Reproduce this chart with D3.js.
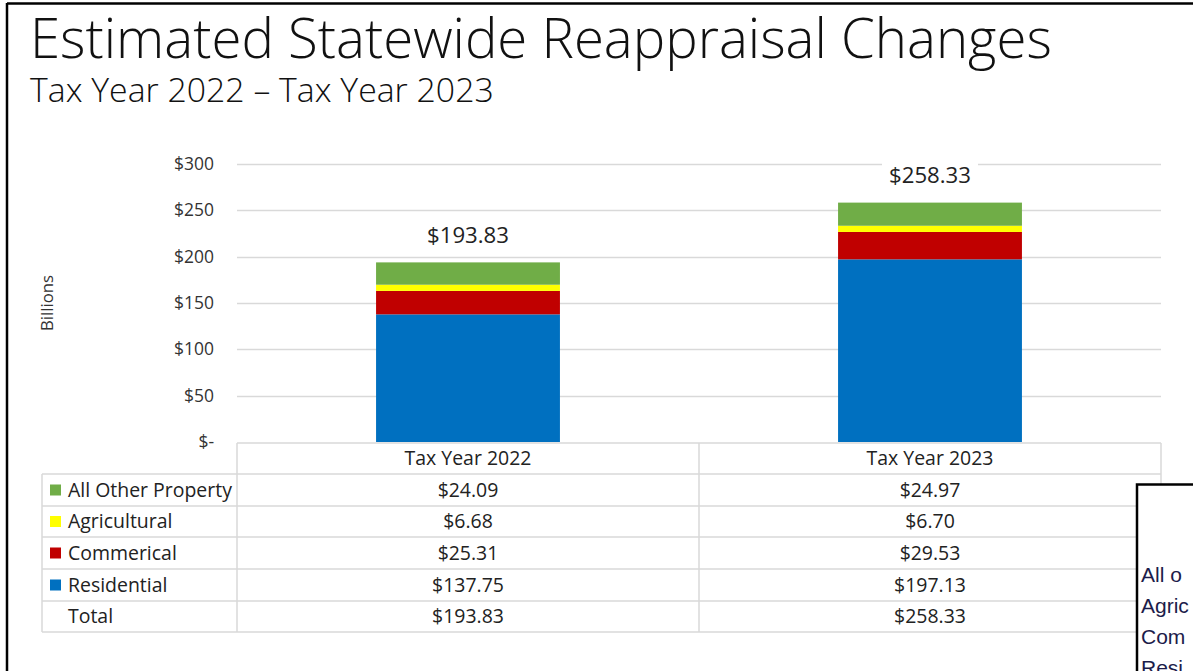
<!DOCTYPE html>
<html>
<head>
<meta charset="utf-8">
<script src="https://cdn.jsdelivr.net/npm/d3@7"></script>
<style>
  html, body { margin: 0; padding: 0; background: #fff; overflow: hidden; }
  svg { display: block; }
</style>
</head>
<body>
<svg id="chart" width="1193" height="671"></svg>
<script>
// Tax years shown as stacked columns
const years = ["Tax Year 2022", "Tax Year 2023"];
// Property classes, top of the stack first (as listed in the data table)
const classes = ["All Other Property", "Agricultural", "Commerical", "Residential"];
const classColors = ["#70AD47", "#FFFF00", "#C00000", "#0070C0"];
// Values in billions of dollars, per year
const allOther = [24.09, 24.97];
const agricultural = [6.68, 6.70];
const commercial = [25.31, 29.53];
const residential = [137.75, 197.13];
const totals = [193.83, 258.33];
// Y-axis ticks
const yTicks = [0, 50, 100, 150, 200, 250, 300];
const sideBoxLines = ["All o", "Agric", "Com", "Resi"];

const seriesValues = [allOther, agricultural, commercial, residential];

const svg = d3.select("#chart");
const font = "'Open Sans', Lato, sans-serif";
const ink = "#222";

// Frame around the slide
svg.append("line").attr("x1", 7).attr("x2", 1193).attr("y1", 3.5).attr("y2", 3.5)
  .attr("stroke", "#000").attr("stroke-width", 2.5);
svg.append("line").attr("x1", 7).attr("x2", 7).attr("y1", 3).attr("y2", 671)
  .attr("stroke", "#000").attr("stroke-width", 2.5);

// Font size that gives a string a chosen width
function sizeFor(str, target, weight) {
  const t = svg.append("text").attr("font-family", font).attr("font-weight", weight || 400)
    .attr("font-size", 100).text(str);
  const w = t.node().getComputedTextLength();
  t.remove();
  return 100 * target / w;
}

svg.append("text").attr("x", 30).attr("y", 58)
  .attr("font-family", font).attr("font-weight", 300)
  .attr("font-size", sizeFor("Estimated Statewide Reappraisal Changes", 1022, 300)).attr("fill", "#111")
  .text("Estimated Statewide Reappraisal Changes");

svg.append("text").attr("x", 30).attr("y", 102)
  .attr("font-family", font).attr("font-weight", 300)
  .attr("font-size", sizeFor("Tax Year 2022 \u2013 Tax Year 2023", 464, 300)).attr("fill", "#111")
  .text("Tax Year 2022 \u2013 Tax Year 2023");

// Plot geometry
const plotLeft = 237, plotRight = 1161, plotTop = 164, plotBottom = 442;

const x = d3.scaleBand().domain(years).range([plotLeft, plotRight]).paddingInner(0).paddingOuter(0);
const y = d3.scaleLinear().domain([0, 300]).range([plotBottom, plotTop]);
const barW = x.bandwidth() * 0.398;

// Gridlines
svg.append("g").selectAll("line").data(yTicks.filter(d => d > 0)).join("line")
  .attr("x1", plotLeft).attr("x2", plotRight)
  .attr("y1", d => Math.round(y(d)) + 0.5).attr("y2", d => Math.round(y(d)) + 0.5)
  .attr("stroke", "#d9d9d9").attr("stroke-width", 1.5);

// Y axis labels
const tickSize = sizeFor("$300", 40);
const yAxis = d3.axisLeft(y).tickValues(yTicks).tickSize(0).tickPadding(0)
  .tickFormat(d => d === 0 ? "$-" : "$" + d);
const gy = svg.append("g").attr("transform", "translate(214,0)").call(yAxis);
gy.select(".domain").remove();
gy.selectAll("text").attr("font-family", font).attr("font-size", tickSize).attr("fill", "#333");

// Axis title
svg.append("text").attr("transform", "translate(53,303) rotate(-90)")
  .attr("text-anchor", "middle").attr("font-family", font).attr("font-size", sizeFor("Billions", 56))
  .attr("fill", "#333").text("Billions");

// Stacked bars
const stackData = years.map((yr, i) => {
  const o = { year: yr };
  classes.forEach((c, k) => { o[c] = seriesValues[k][i]; });
  return o;
});
const stack = d3.stack().keys(classes.slice().reverse());
const layers = stack(stackData);
svg.append("g").selectAll("g").data(layers).join("g")
  .attr("fill", d => classColors[classes.indexOf(d.key)])
  .selectAll("rect").data(d => d).join("rect")
  .attr("x", d => x(d.data.year) + (x.bandwidth() - barW) / 2)
  .attr("width", barW)
  .attr("y", d => y(d[1]))
  .attr("height", d => y(d[0]) - y(d[1]));

// Total labels with white backing so gridlines break behind them
const totalSize = sizeFor("$193.83", 82);
const totalG = svg.append("g").selectAll("g").data(years).join("g")
  .attr("transform", (d, i) => `translate(${x(d) + x.bandwidth() / 2},${y(totals[i]) - 27})`);
totalG.append("rect").attr("x", -48).attr("y", -14).attr("width", 96).attr("height", 28).attr("fill", "#fff");
totalG.append("text").attr("text-anchor", "middle").attr("dy", "0.35em")
  .attr("font-family", font).attr("font-size", totalSize).attr("fill", ink)
  .text((d, i) => "$" + totals[i].toFixed(2));

// Data table under the plot
const tableLeft = 42;
const rowEdges = [443, 474, 506, 537, 569, 601, 632];
const lineColor = "#d9d9d9";
const tg = svg.append("g");
// horizontal rules
tg.append("line").attr("x1", plotLeft).attr("x2", plotRight).attr("y1", rowEdges[0]).attr("y2", rowEdges[0])
  .attr("stroke", lineColor).attr("stroke-width", 1.5);
rowEdges.slice(1).forEach(yy => {
  tg.append("line").attr("x1", tableLeft).attr("x2", plotRight).attr("y1", yy).attr("y2", yy)
    .attr("stroke", lineColor).attr("stroke-width", 1.5);
});
// vertical rules
tg.append("line").attr("x1", tableLeft).attr("x2", tableLeft).attr("y1", rowEdges[1]).attr("y2", rowEdges[6])
  .attr("stroke", lineColor).attr("stroke-width", 1.5);
[plotLeft, plotLeft + x.bandwidth(), plotRight].forEach(xx => {
  tg.append("line").attr("x1", xx).attr("x2", xx).attr("y1", rowEdges[0]).attr("y2", rowEdges[6])
    .attr("stroke", lineColor).attr("stroke-width", 1.5);
});

const cellFont = sizeFor("All Other Property", 164);
// column headers
tg.selectAll("text.hdr").data(years).join("text").attr("class", "hdr")
  .attr("x", d => x(d) + x.bandwidth() / 2).attr("y", (rowEdges[0] + rowEdges[1]) / 2)
  .attr("dy", "0.35em").attr("text-anchor", "middle")
  .attr("font-family", font).attr("font-size", cellFont).attr("fill", ink).text(d => d);

const rowLabels = classes.concat(["Total"]);
const rowValues = seriesValues.concat([totals]);
rowLabels.forEach((lab, r) => {
  const cy = (rowEdges[r + 1] + rowEdges[r + 2]) / 2;
  if (r < classes.length) {
    tg.append("rect").attr("x", 50).attr("y", cy - 5.5).attr("width", 11).attr("height", 11)
      .attr("fill", classColors[r]);
  }
  tg.append("text").attr("x", 68).attr("y", cy).attr("dy", "0.35em")
    .attr("font-family", font).attr("font-size", cellFont).attr("fill", ink).text(lab);
  years.forEach((yr, i) => {
    tg.append("text").attr("x", x(yr) + x.bandwidth() / 2).attr("y", cy).attr("dy", "0.35em")
      .attr("text-anchor", "middle").attr("font-family", font).attr("font-size", cellFont)
      .attr("fill", ink).text("$" + rowValues[r][i].toFixed(2));
  });
});

// Overlapping box at the lower right edge
const side = svg.append("g");
side.append("rect").attr("x", 1137).attr("y", 484.5).attr("width", 70).attr("height", 200)
  .attr("fill", "#fff").attr("stroke", "#000").attr("stroke-width", 2.5);
side.selectAll("text").data(sideBoxLines).join("text")
  .attr("x", 1141).attr("y", (d, i) => 582 + i * 31)
  .attr("font-family", "'Liberation Sans', Arial, sans-serif").attr("font-size", 21)
  .attr("fill", "#1c1c4a").text(d => d);
</script>
</body>
</html>
